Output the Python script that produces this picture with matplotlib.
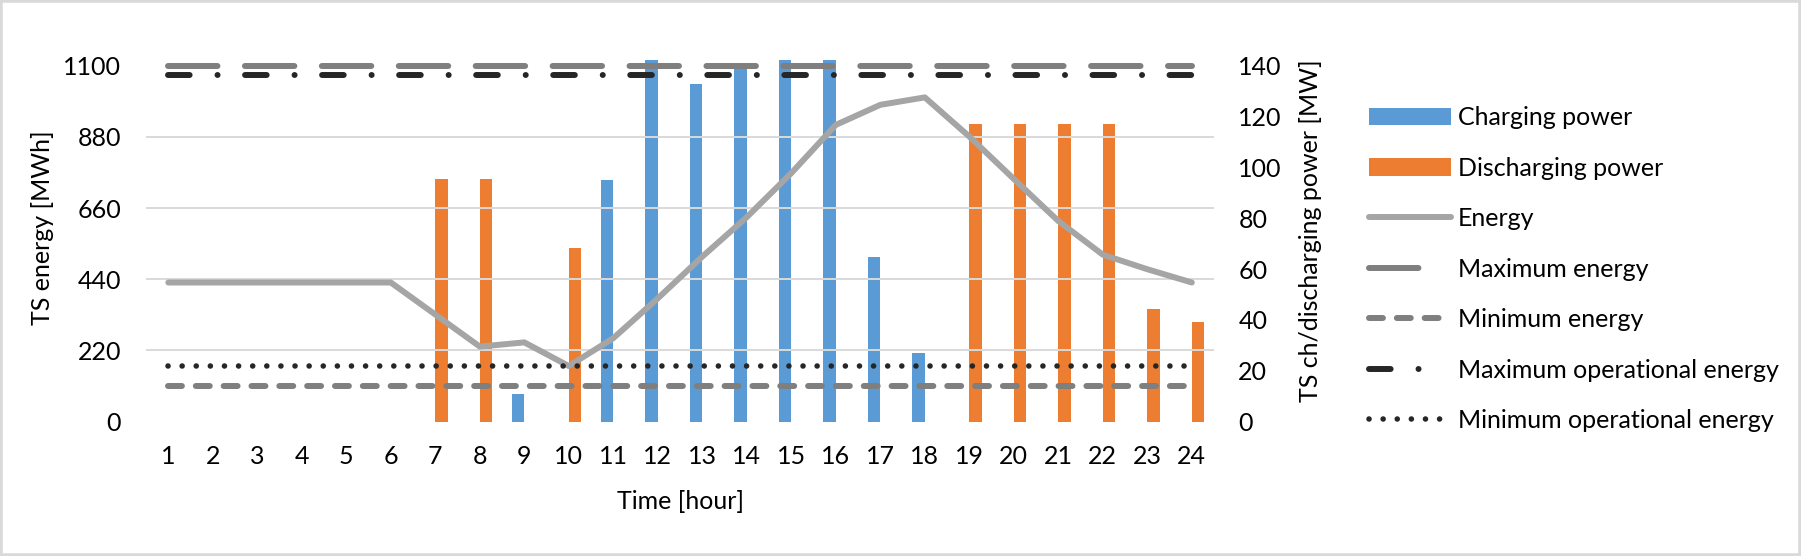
import numpy as np
import matplotlib
matplotlib.use('Agg')
import matplotlib.pyplot as plt
from matplotlib.patches import Rectangle
from matplotlib.lines import Line2D

plt.rcParams['font.family'] = ['Lato', 'DejaVu Sans']

# data
hours = list(range(1, 25))
charging = [0, 0, 0, 0, 0, 0, 0, 0, 10.9, 0, 95.0, 142.4,
            132.8, 140.0, 142.4, 142.4, 64.8, 27.2, 0, 0, 0, 0, 0, 0]
discharging = [0, 0, 0, 0, 0, 0, 95.5, 95.5, 0, 68.4, 0, 0,
               0, 0, 0, 0, 0, 0, 117.1, 117.0, 117.0, 117.0, 44.4, 39.2]
energy = [430, 430, 430, 430, 430, 430, 331, 232, 245, 172, 258, 381,
          510, 632, 768, 917, 979, 1002, 881, 750, 620, 516, 471, 430]
max_energy = 1100
max_op_energy = 1071
min_op_energy = 172
min_energy = 110

energy_ticks = [0, 220, 440, 660, 880, 1100]
power_ticks = [0, 20, 40, 60, 80, 100, 120, 140]

fs = 18
grid_col = '#d9d9d9'

fig = plt.figure(figsize=(18.01, 5.56), dpi=100)
ax = fig.add_axes([0.0811, 0.2416, 0.5930, 0.6403])
ax2 = ax.twinx()
ax.set_zorder(ax2.get_zorder() + 1)
ax.patch.set_visible(False)

x = np.array(hours)

# bars on the secondary (power) axis
b1 = ax2.bar(x - 0.14, charging, width=0.28, color='#5b9bd5', label='Charging power', clip_on=False)
b2 = ax2.bar(x + 0.14, discharging, width=0.28, color='#ed7d31', label='Discharging power', clip_on=False)

# lines on the primary (energy) axis
lw = 4.3
l1, = ax.plot(x, energy, color='#a5a5a5', lw=lw, solid_capstyle='round', solid_joinstyle='round',
              label='Energy', clip_on=False)
l2, = ax.plot(x, [max_energy] * len(x), color='#7f7f7f', lw=lw, dashes=(8.28, 4.6),
              dash_capstyle='round', label='Maximum energy', clip_on=False)
l3, = ax.plot(x, [min_energy] * len(x), color='#7f7f7f', lw=lw, dashes=(2.33, 2.33),
              dash_capstyle='round', label='Minimum energy', clip_on=False)
l4, = ax.plot(x, [max_op_energy] * len(x), color='#262626', lw=lw, dashes=(3.62, 4.67, 0.01, 4.6),
              dash_capstyle='round', label='Maximum operational energy', clip_on=False)
l5, = ax.plot(x, [min_op_energy] * len(x), color='#262626', lw=4.0, dashes=(0.01, 2.53),
              dash_capstyle='round', label='Minimum operational energy', clip_on=False)

ax.set_xlim(0.5, 24.5)
ax.set_ylim(0, 1100)
ax2.set_ylim(0, 140)
ax.set_xticks(hours)
ax.set_yticks(energy_ticks)
ax2.set_yticks(power_ticks)

# gridlines follow the energy ticks, drawn behind the bars
ax2.set_yticks([t * 140 / 1100 for t in energy_ticks], minor=True)
ax2.grid(which='minor', axis='y', color=grid_col, lw=1.4)
ax2.tick_params(which='minor', length=0)

for a in (ax, ax2):
    for s in a.spines.values():
        s.set_visible(False)
ax.tick_params(axis='y', length=0, pad=18, labelsize=fs)
ax.tick_params(axis='x', length=0, pad=17, labelsize=fs)
ax2.tick_params(axis='y', length=0, pad=17.5, labelsize=fs)

ax.set_ylabel('TS energy [MWh]', fontsize=fs)
ax.yaxis.set_label_coords(-0.097, 0.544)
ax.yaxis.label.set_va('center')
ax2.set_ylabel('TS ch/discharging power [MW]', fontsize=fs)
ax2.yaxis.set_label_coords(1.0899, 0.536)
ax2.yaxis.label.set_va('center')
ax2.yaxis.label.set_rotation(90)
ax.set_xlabel('Time [hour]', fontsize=fs)
ax.xaxis.set_label_coords(0.5, -0.2247)
ax.xaxis.label.set_va('center')

# legend keys for the long-dash lines: one period only, like the original
h_max = Line2D([], [], color='#7f7f7f', lw=lw, dashes=(8.28, 20), dash_capstyle='round')
h_maxop = Line2D([], [], color='#262626', lw=lw, dashes=(3.62, 4.67, 0.01, 20), dash_capstyle='round')

handles = [b1, b2, l1, h_max, l3, h_maxop, l5]
labels = [h.get_label() for h in (b1, b2, l1, l2, l3, l4, l5)]
fig.legend(handles, labels, loc='upper left',
           bbox_to_anchor=(0.7601, 0.809), frameon=False, fontsize=fs,
           borderpad=0, borderaxespad=0, handlelength=3.3, handletextpad=0.25,
           labelspacing=1.1)

# chart border
fig.patches.append(Rectangle((0, 0), 1, 1, transform=fig.transFigure, fill=False,
                             edgecolor=grid_col, lw=4))

fig.savefig('out.png', dpi=100)
